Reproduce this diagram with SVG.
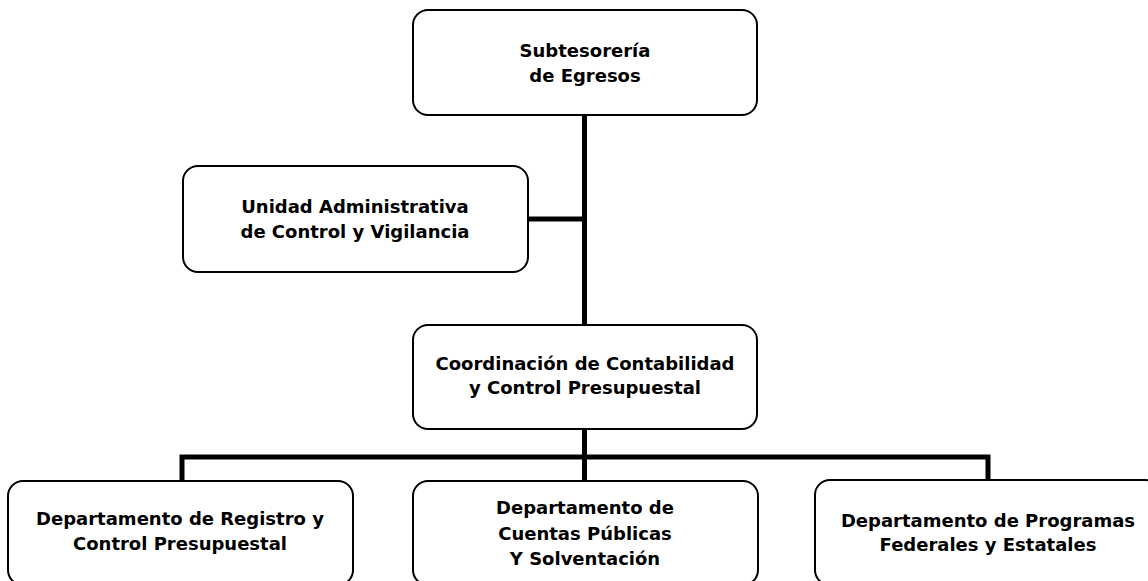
<svg xmlns="http://www.w3.org/2000/svg" width="1148" height="581" viewBox="0 0 1148 581">
<style>
.box{fill:#fff;stroke:#000;stroke-width:2}
.lbl{font-family:"DejaVu Sans",Verdana,sans-serif;font-weight:bold;font-size:18px;fill:#000;text-anchor:middle}
.con{stroke:#000;stroke-width:5;fill:none}
</style>
<rect width="1148" height="581" fill="#fff"/>
<g id="connectors">
<path class="con" d="M584.5 115V324M528 219H584.5M584.5 429V457M182 481V457H988V481M584.5 457V481"/>
</g>
<g id="n1"><rect class="box" x="413" y="10" width="344" height="105" rx="15"/>
<text class="lbl" x="585" y="57">Subtesorería</text><text class="lbl" x="585" y="82">de Egresos</text></g>
<g id="n2"><rect class="box" x="183" y="166" width="345" height="106" rx="15"/>
<text class="lbl" x="355" y="213">Unidad Administrativa</text><text class="lbl" x="355" y="238">de Control y Vigilancia</text></g>
<g id="n3"><rect class="box" x="413" y="325" width="344" height="104" rx="15"/>
<text class="lbl" x="585" y="370">Coordinación de Contabilidad</text><text class="lbl" x="585" y="394">y Control Presupuestal</text></g>
<g id="n4"><rect class="box" x="8" y="481" width="345" height="104" rx="15"/>
<text class="lbl" x="180" y="525">Departamento de Registro y</text><text class="lbl" x="180" y="550">Control Presupuestal</text></g>
<g id="n5"><rect class="box" x="413" y="481" width="345" height="104" rx="15"/>
<text class="lbl" x="585" y="514">Departamento de</text><text class="lbl" x="585" y="539.5">Cuentas Públicas</text><text class="lbl" x="585" y="565">Y Solventación</text></g>
<g id="n6"><rect class="box" x="815" y="480" width="345" height="105" rx="15"/>
<text class="lbl" x="988" y="527">Departamento de Programas</text><text class="lbl" x="988" y="551">Federales y Estatales</text></g>
</svg>
